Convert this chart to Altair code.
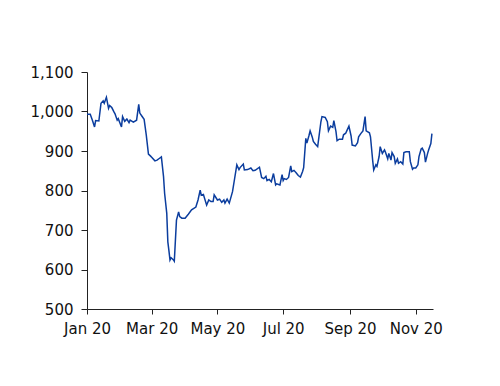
import altair as alt
import pandas as pd

# day offsets from 2020-01-01 and index values
days = [0, 3, 5, 7, 8, 11, 13, 15, 16, 18, 20, 21, 23, 25, 26, 28, 29, 32, 33, 35,
        37, 39, 40, 43, 46, 48, 49, 51, 53, 55, 57, 59, 60, 63, 65, 67, 69, 71, 72, 74,
        75, 76, 77, 78, 80, 81, 83, 85, 86, 88, 91, 94, 97, 101, 103, 105, 106, 108, 111, 113,
        115, 117, 118, 121, 123, 125, 127, 128, 130, 132, 135, 137, 139, 141, 142, 145, 146, 149, 152, 154,
        156, 160, 162, 164, 166, 167, 169, 171, 173, 175, 176, 179, 181, 182, 183, 185, 187, 189, 190, 192,
        194, 196, 198, 200, 201, 203, 204, 206, 207, 209, 210, 212, 214, 215, 217, 218, 221, 223, 224, 226,
        228, 229, 231, 232, 234, 235, 237, 238, 240, 241, 243, 245, 246, 249, 251, 252, 254, 256, 258, 259,
        262, 263, 265, 266, 268, 269, 271, 272, 274, 276, 277, 279, 280, 282, 283, 285, 286, 288, 289, 291,
        293, 294, 296, 297, 299, 300, 302, 303, 305, 307, 308, 310, 311, 313, 314, 316, 317, 319, 320]
values = [993, 993, 978, 961, 977, 976, 1021, 1027, 1021, 1036, 1008, 1015, 1010, 999, 994, 978, 982, 961, 987, 975,
          981, 972, 978, 973, 978, 1018, 996, 988, 980, 940, 892, 887, 884, 875, 877, 881, 885, 835, 793, 742,
          670, 648, 624, 630, 625, 621, 725, 746, 734, 730, 730, 740, 751, 758, 776, 801, 788, 790, 763, 776,
          772, 772, 789, 776, 778, 770, 776, 768, 778, 768, 797, 831, 865, 853, 858, 867, 852, 853, 857, 850,
          851, 859, 833, 830, 836, 825, 828, 822, 843, 814, 817, 814, 840, 825, 830, 828, 833, 862, 848, 851,
          845, 838, 834, 848, 858, 932, 920, 940, 951, 935, 924, 917, 911, 932, 974, 987, 985, 974, 951, 963,
          960, 977, 949, 926, 930, 930, 930, 941, 945, 951, 963, 938, 915, 913, 921, 936, 944, 951, 987, 951,
          946, 936, 877, 852, 865, 861, 886, 911, 894, 903, 896, 880, 894, 877, 896, 886, 869, 880, 869, 873,
          867, 896, 898, 898, 898, 873, 854, 857, 857, 865, 886, 905, 907, 896, 872, 894, 903, 919, 944]

tick_months = [1, 3, 5, 7, 9, 11]
y_ticks = [500, 600, 700, 800, 900, 1000, 1100]

dates = (pd.Timestamp("2020-01-01") + pd.to_timedelta(days, unit="D")).strftime("%Y-%m-%d")
df = pd.DataFrame({"date": dates, "value": values})

FONT = "DejaVu Sans"
chart = (
    alt.Chart(df)
    .mark_line(color="#0B3D9E", strokeWidth=1.5)
    .encode(
        x=alt.X(
            "date:T",
            scale=alt.Scale(type="utc", domain=[alt.DateTime(year=2020, month=1, date=1, utc=True),
                                                 alt.DateTime(year=2020, month=11, date=17, utc=True)], nice=False),
            axis=alt.Axis(
                values=[alt.DateTime(year=2020, month=m, date=1, utc=True) for m in tick_months],
                format="%b %y", title=None, grid=False, tickSize=5, labelPadding=7,
                domainColor="#222222", tickColor="#222222", labelColor="#111111",
                labelFont=FONT, labelFontSize=15, labelFlush=False,
            ),
        ),
        y=alt.Y(
            "value:Q",
            scale=alt.Scale(domain=[500, 1100], nice=False, zero=False),
            axis=alt.Axis(
                values=y_ticks, format=",.0f", title=None, grid=False, tickSize=6, labelPadding=8,
                domainColor="#222222", tickColor="#222222", labelColor="#111111",
                labelFont=FONT, labelFontSize=15,
            ),
        ),
    )
    .properties(width=346, height=237, padding={"left": 79, "top": 64, "right": 50, "bottom": 60},
                autosize=alt.AutoSizeParams(type="none"))
    .configure_view(stroke=None)
)

chart.save("out.html", embed_options={"renderer": "svg", "actions": False})
